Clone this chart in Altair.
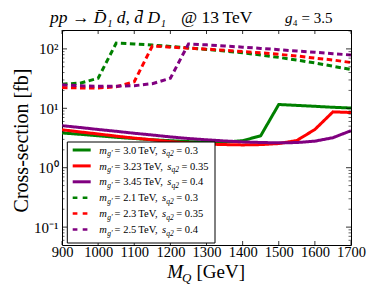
import altair as alt
import pandas as pd

# ---------------- data ----------------
M_Q = [900, 950, 1000, 1050, 1100, 1150, 1200, 1250, 1300, 1350, 1400,
       1450, 1500, 1550, 1600, 1650, 1700]

series_names = ["s30", "s323", "s345", "d21", "d23", "d25"]
green_solid = [3.85, 3.65, 3.45, 3.25, 3.1, 2.95, 2.85, 2.75, 2.7, 2.7, 2.85,
               3.45, 11.6, 11.2, 10.8, 10.4, 10.1]
red_solid = [4.35, 4.0, 3.7, 3.4, 3.15, 2.95, 2.75, 2.6, 2.5, 2.45, 2.42,
             2.45, 2.55, 2.87, 4.4, 8.7, 8.5]
purple_solid = [5.1, 4.75, 4.4, 4.1, 3.8, 3.55, 3.3, 3.1, 2.95, 2.82, 2.72,
                2.66, 2.62, 2.65, 2.8, 3.2, 4.2]
green_dashed = [25.5, 26.5, 32, 125, 121, 116, 110, 104, 98, 92, 86, 79,
                72, 65, 58, 51, 45]
red_dashed = [22.4, 22, 22, 23, 28, 112, 107, 103, 99, 95, 90, 86, 81, 76,
              70, 65, 59]
purple_dashed = [24.8, 24, 23.5, 23.5, 24, 26, 32, 121, 117, 112, 107, 102,
                 97, 92, 88, 83, 79]
series_values = [green_solid, red_solid, purple_solid,
                 green_dashed, red_dashed, purple_dashed]

legend_mass = ["3.0", "3.23", "3.45", "2.1", "2.3", "2.5"]
legend_sq2 = ["0.3", "0.35", "0.4", "0.3", "0.35", "0.4"]

x_tick_values = [900, 1000, 1100, 1200, 1300, 1400, 1500, 1600, 1700]
y_major_values = [0.1, 1, 10, 100]
y_minor_values = [0.06, 0.07, 0.08, 0.09,
                  0.2, 0.3, 0.4, 0.5, 0.6, 0.7, 0.8, 0.9,
                  2, 3, 4, 5, 6, 7, 8, 9,
                  20, 30, 40, 50, 60, 70, 80, 90, 200]

title_main = "pp \u2192 D\u0304\u2081 d,  d\u0304 D\u2081"
title_energy = "@ 13\u2009TeV"
title_g = "g"
title_g_rest = "\u2084 = 3.5"
y_title = "Cross-section [fb]"
x_title_main = "M"
x_title_sub = "Q"
x_title_unit = "[GeV]"

# ---------------- style ----------------
FONT = "Liberation Serif"
W, H = 289, 215
colors = ["#008000", "#ff0000", "#800080"] * 2
dashes = [[1, 0]] * 3 + [[5.5, 3.5]] * 3
widths = [3, 3, 3, 2.5, 2.5, 2.5]

rows = []
for name, vals in zip(series_names, series_values):
    for m, v in zip(M_Q, vals):
        rows.append({"series": name, "M": m, "xs": v})
df = pd.DataFrame(rows)

xscale = alt.Scale(domain=[900, 1700], nice=False, zero=False)
yscale = alt.Scale(type="log", domain=[0.05, 208], nice=False)

xaxis = alt.Axis(values=x_tick_values, title=None, ticks=False, domain=False,
                 grid=False, labelFont=FONT, labelFontSize=14.5, format="d",
                 labelColor="black", labelFlush=False, labelOverlap=False,
                 labelPadding=0)
yaxis = alt.Axis(values=y_major_values, title=y_title, ticks=False,
                 domain=False, grid=False, labelFont=FONT, labelFontSize=15,
                 labelColor="black", labelFlush=False, labelOverlap=False,
                 labelPadding=4,
                 labelExpr="datum.value < 0.5 ? '10\u207b\u00b9' : datum.value < 5 ? '10\u2070' : datum.value < 50 ? '10\u00b9' : '10\u00b2'",
                 titleFont=FONT, titleFontSize=20, titleFontWeight="normal",
                 titleColor="black", titleX=-41, titleY=110,
                 titleAlign="center", titleBaseline="middle", titleAngle=-90)


def X():
    return alt.X("M:Q", scale=xscale, axis=xaxis)


def Y():
    return alt.Y("xs:Q", scale=yscale, axis=yaxis)


lines = alt.Chart(df).mark_line(clip=True).encode(
    x=X(), y=Y(),
    color=alt.Color("series:N", scale=alt.Scale(domain=series_names, range=colors), legend=None),
    strokeDash=alt.StrokeDash("series:N", scale=alt.Scale(domain=series_names, range=dashes), legend=None),
    strokeWidth=alt.StrokeWidth("series:N", scale=alt.Scale(domain=series_names, range=widths), legend=None),
)

# inward ticks
xt = pd.DataFrame({"M": x_tick_values})
ymaj = pd.DataFrame({"xs": y_major_values})
ymin = pd.DataFrame({"xs": y_minor_values})
tick_layers = [
    alt.Chart(xt).mark_rule(color="black", strokeWidth=0.8).encode(x=X(), y=alt.value(H), y2=alt.value(H - 4)),
    alt.Chart(xt).mark_rule(color="black", strokeWidth=0.8).encode(x=X(), y=alt.value(0), y2=alt.value(4)),
    alt.Chart(ymaj).mark_rule(color="black", strokeWidth=0.8).encode(y=Y(), x=alt.value(0), x2=alt.value(5)),
    alt.Chart(ymaj).mark_rule(color="black", strokeWidth=0.8).encode(y=Y(), x=alt.value(W), x2=alt.value(W - 5)),
    alt.Chart(ymin).mark_rule(color="black", strokeWidth=0.6).encode(y=Y(), x=alt.value(0), x2=alt.value(2.5)),
    alt.Chart(ymin).mark_rule(color="black", strokeWidth=0.6).encode(y=Y(), x=alt.value(W), x2=alt.value(W - 2.5)),
]

# ---------------- manual legend ----------------
FS, SFS = 10.5, 7.5
WR = {" ": 0.25, ".": 0.25, ",": 0.25, "=": 0.564, "T": 0.611, "e": 0.444,
      "V": 0.722, "\u2009": 0.17}


def wr(s, fs):
    return sum(WR.get(c, 0.5) for c in s) * fs


leg_rows = []
piece_it, piece_sub, piece_up = [], [], []
for i, (mass, sq) in enumerate(zip(legend_mass, legend_sq2)):
    yy = 120 + 15.9 * i
    leg_rows.append({"x1": 10.7, "x2": 28.7, "y": yy, "c": colors[i],
                     "solid": i < 3})
    x0 = 37.3
    piece_it.append({"px": x0, "py": yy + 3.6, "t": "m"})
    xs_ = x0 + 0.722 * FS + 0.3
    piece_sub.append({"px": xs_, "py": yy + 6, "t": "g\u2032"})
    xe = xs_ + 0.775 * SFS + 1.6
    eq1 = "= " + mass + "\u2009TeV,"
    piece_up.append({"px": xe, "py": yy + 3.6, "t": eq1})
    xsv = xe + wr(eq1, FS) + 0.25 * FS
    piece_it.append({"px": xsv, "py": yy + 3.6, "t": "s"})
    xq = xsv + 0.389 * FS + 0.2
    piece_sub.append({"px": xq, "py": yy + 6, "t": "q2"})
    xe2 = xq + 1.0 * SFS + 2.5
    piece_up.append({"px": xe2, "py": yy + 3.6, "t": "= " + sq})

leg_df = pd.DataFrame(leg_rows)

box = alt.Chart(pd.DataFrame({"a": [0]})).mark_rect(
    fill="white", stroke="black", strokeWidth=1).encode(
    x=alt.value(5.3), x2=alt.value(153), y=alt.value(112), y2=alt.value(213))

leg_solid = alt.Chart(leg_df[leg_df.solid]).mark_rule(strokeWidth=3).encode(
    x=alt.X("x1:Q", scale=None), x2="x2:Q",
    y=alt.Y("y:Q", scale=None), color=alt.Color("c:N", scale=None))
leg_dash = alt.Chart(leg_df[~leg_df.solid]).mark_rule(
    strokeWidth=2.5, strokeDash=[4.7, 5.3]).encode(
    x=alt.X("x1:Q", scale=None), x2="x2:Q",
    y=alt.Y("y:Q", scale=None), color=alt.Color("c:N", scale=None))


def text_layer(data, fs, italic):
    return alt.Chart(pd.DataFrame(data)).mark_text(
        font=FONT, fontSize=fs, fontStyle="italic" if italic else "normal",
        align="left", baseline="alphabetic", color="black").encode(
        x=alt.X("px:Q", scale=None), y=alt.Y("py:Q", scale=None), text="t:N")


leg_text = [text_layer(piece_it, FS, True), text_layer(piece_sub, SFS, True),
            text_layer(piece_up, FS, False)]

# ---------------- title and x label ----------------


def label(txt, px, py, fs, italic, align="left"):
    return alt.Chart(pd.DataFrame({"t": [txt]})).mark_text(
        font=FONT, fontSize=fs, fontStyle="italic" if italic else "normal",
        align=align, baseline="alphabetic", color="black").encode(
        x=alt.value(px), y=alt.value(py), text="t:N")


XFS, XSFS = 19, 13
xt_w = 0.833 * XFS + 0.722 * XSFS + 0.25 * XFS + 2.554 * XFS
xt0 = W / 2 - xt_w / 2
title_layers = [
    label(title_main, -12, -7, 17.5, True),
    label(title_energy, 119, -7, 17.5, False),
    label(title_g, 223, -7, 15, True),
    label(title_g_rest, 230.5, -7, 15, False),
    label(x_title_main, xt0, 248, XFS, True),
    label(x_title_sub, xt0 + 0.833 * XFS - 1, 251.5, XSFS, True),
    label(x_title_unit, xt0 + 0.833 * XFS + 0.722 * XSFS + 4, 248, XFS, False),
]

chart = alt.layer(lines, *tick_layers, box, leg_solid, leg_dash, *leg_text,
                  *title_layers).properties(
    width=W, height=H, autosize=alt.AutoSizeParams(type="none"),
    padding={"left": 54, "top": 22, "right": 31, "bottom": 40},
).configure_view(stroke="black", strokeWidth=1)

chart.save("out.html", embed_options={"renderer": "svg", "actions": False})
